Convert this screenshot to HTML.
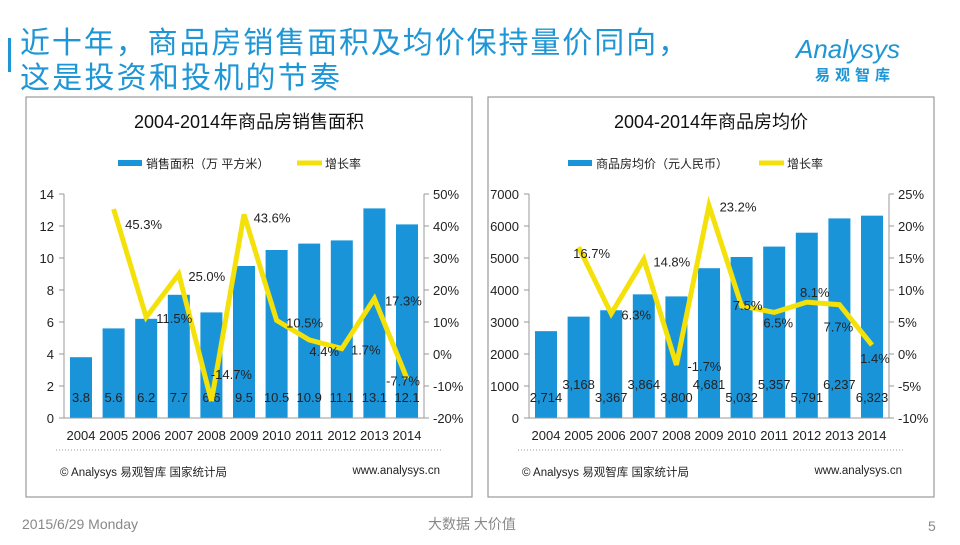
<!DOCTYPE html>
<html><head><meta charset="utf-8">
<style>
body{margin:0;width:960px;height:540px;background:#fff;overflow:hidden;font-family:"Liberation Sans","Noto Sans CJK SC",sans-serif;}
svg text{font-family:"Liberation Sans","Noto Sans CJK SC",sans-serif;}
</style></head><body>
<svg width="960" height="540">
<rect x="8" y="38" width="3" height="34" fill="#1e96d6"/>
<text x="20" y="53" font-size="30" fill="#1e96d6" font-family="Noto Sans CJK SC" textLength="668">近十年，商品房销售面积及均价保持量价同向，</text>
<text x="20" y="88" font-size="30" fill="#1e96d6" font-family="Noto Sans CJK SC" textLength="320">这是投资和投机的节奏</text>
<text x="796" y="58" font-size="26" font-style="italic" fill="#1e96d6">Analysys</text>
<text x="815" y="80" font-size="15" font-weight="bold" fill="#1e96d6" letter-spacing="5">易观智库</text>
<text x="22" y="529" font-size="14" fill="#888">2015/6/29 Monday</text>
<text x="428" y="529" font-size="14" fill="#888">大数据   大价值</text>
<text x="928" y="531" font-size="14" fill="#888">5</text>
<g id="c1"></g>
<g id="c2"></g>
</svg>
<script>
const years=["2004","2005","2006","2007","2008","2009","2010","2011","2012","2013","2014"];
const areaValues=[3.8,5.6,6.2,7.7,6.6,9.5,10.5,10.9,11.1,13.1,12.1];
const areaLabels=["3.8","5.6","6.2","7.7","6.6","9.5","10.5","10.9","11.1","13.1","12.1"];
const areaGrowth=[null,45.3,11.5,25.0,-14.7,43.6,10.5,4.4,1.7,17.3,-7.7];
const areaLeftTicks=[0,2,4,6,8,10,12,14];
const areaRightTicks=[-20,-10,0,10,20,30,40,50];
const priceValues=[2714,3168,3367,3864,3800,4681,5032,5357,5791,6237,6323];
const priceLabels=["2,714","3,168","3,367","3,864","3,800","4,681","5,032","5,357","5,791","6,237","6,323"];
const priceGrowth=[null,16.7,6.3,14.8,-1.7,23.2,7.5,6.5,8.1,7.7,1.4];
const priceLeftTicks=[0,1000,2000,3000,4000,5000,6000,7000];
const priceRightTicks=[-10,-5,0,5,10,15,20,25];
const NS="http://www.w3.org/2000/svg";
function mk(p,t,a,txt){const e=document.createElementNS(NS,t);for(const k in a)e.setAttribute(k,a[k]);if(txt!==undefined)e.textContent=txt;p.appendChild(e);return e;}
function draw(g,o){
  const X0=o.ox,top=194,bot=418,xr=X0+360;
  const ly=v=>bot-(v-o.lmin)/(o.lmax-o.lmin)*(bot-top);
  const ry=v=>bot-(v-o.rmin)/(o.rmax-o.rmin)*(bot-top);
  const bx=i=>X0+17+32.6*i;
  let e=mk(g,"rect",{x:o.px,y:97,width:446,height:400,fill:"none",stroke:"#999","stroke-width":1.2});
  
  e=mk(g,"text",{x:o.px+223,y:128,"font-size":18,"text-anchor":"middle",fill:"#111"},o.title);
  
  e=mk(g,"rect",{x:o.px+o.legX,y:160,width:24,height:6,fill:"#1a94d8"});
  
  e=mk(g,"text",{x:o.px+o.legX+28,y:168,"font-size":12,fill:"#222"},o.legend);
  
  e=mk(g,"line",{x1:o.px+271,x2:o.px+296,y1:163,y2:163,stroke:"#f5e10a","stroke-width":5});
  
  e=mk(g,"text",{x:o.px+299,y:168,"font-size":12,fill:"#222"},"增长率");
  
  mk(g,"line",{x1:X0,x2:X0,y1:top,y2:bot,stroke:"#999"});
  mk(g,"line",{x1:xr,x2:xr,y1:top,y2:bot,stroke:"#999"});
  o.lt.forEach(t=>{const y=ly(t);mk(g,"line",{x1:X0-5,x2:X0,y1:y,y2:y,stroke:"#999"});
    e=mk(g,"text",{x:X0-10,y:y+5,"font-size":13,"text-anchor":"end",fill:"#222"},String(t));
    });
  o.rt.forEach(t=>{const y=ry(t);mk(g,"line",{x1:xr,x2:xr+5,y1:y,y2:y,stroke:"#999"});
    e=mk(g,"text",{x:xr+9,y:y+5,"font-size":13,fill:"#222"},t+"%");
    });
  o.vals.forEach((v,i)=>{const y=ly(v);
    e=mk(g,"rect",{x:bx(i)-11,y:y,width:22,height:bot-y,fill:"#1a94d8"});
    
    e=mk(g,"text",{x:bx(i),y:o.alt&&i%2?389:402,"font-size":13,"text-anchor":"middle",fill:"#222"},o.labels[i]);
    
    e=mk(g,"text",{x:bx(i),y:bot+22,"font-size":13,"text-anchor":"middle",fill:"#222"},years[i]);
    });
  mk(g,"line",{x1:X0,x2:xr,y1:bot,y2:bot,stroke:"#999"});
  const pts=[];o.gr.forEach((v,i)=>{if(v!==null)pts.push([bx(i),ry(v),v,i]);});
  e=mk(g,"polyline",{points:pts.map(p=>p[0]+","+p[1]).join(" "),fill:"none",stroke:"#f5e10a","stroke-width":5,"stroke-linejoin":"miter"});
  
  pts.forEach((p,k)=>{const d=o.off[k];
    e=mk(g,"text",{x:p[0]+d[0],y:p[1]+d[1]+5,"font-size":13,"text-anchor":"middle",fill:"#222"},p[2].toFixed(1)+"%");
    });
  e=mk(g,"line",{x1:o.px+30,x2:o.px+415,y1:450,y2:450,stroke:"#999","stroke-dasharray":"1,2"});
  
  e=mk(g,"text",{x:o.px+34,y:476,"font-size":11.5,fill:"#222"},"© Analysys 易观智库  国家统计局");
  
  e=mk(g,"text",{x:o.px+414,y:474,"font-size":11.5,"text-anchor":"end",fill:"#222"},"www.analysys.cn");
  
}
draw(document.getElementById('c1'),{ox:64,px:26,title:"2004-2014年商品房销售面积",legend:"销售面积（万 平方米）",legX:92,
  lmin:0,lmax:14,rmin:-20,rmax:50,lt:areaLeftTicks,rt:areaRightTicks,vals:areaValues,labels:areaLabels,gr:areaGrowth,alt:false,
  off:[[30,15],[28,1],[28,2],[20,-27],[28,3],[28,2],[15,11],[24,1],[29,2],[-4,2]]});
draw(document.getElementById('c2'),{ox:529,px:488,title:"2004-2014年商品房均价",legend:"商品房均价（元人民币）",legX:80,
  lmin:0,lmax:7000,rmin:-10,rmax:25,lt:priceLeftTicks,rt:priceRightTicks,vals:priceValues,labels:priceLabels,gr:priceGrowth,alt:true,
  off:[[13,6],[25,1],[28,2],[28,1],[29,1],[6,-1],[4,10],[8,-10],[-1,22],[3,13]]});
</script>
</body></html>
